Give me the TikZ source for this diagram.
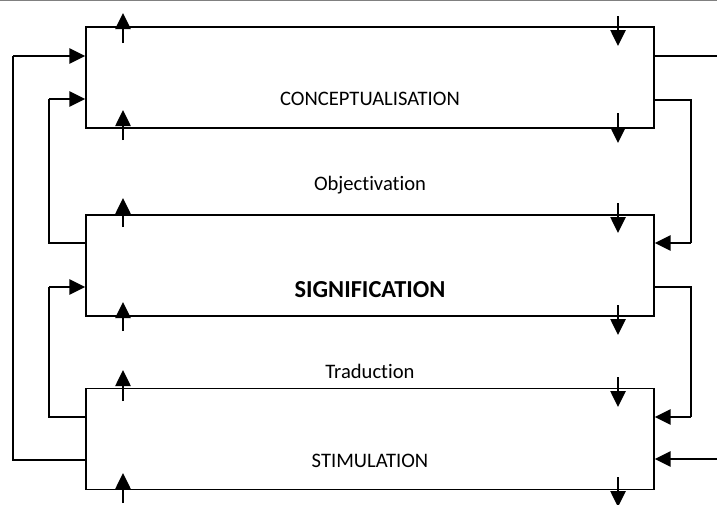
\documentclass[tikz,border=0pt]{standalone}
\usepackage{fontspec}
\setmainfont[Ligatures={NoCommon}]{Carlito}
\usetikzlibrary{arrows.meta}
\begin{document}
\begin{tikzpicture}[x=1pt,y=-1pt,
  box/.style={draw,line width=1.3pt,minimum width=568pt,minimum height=101pt,inner sep=0pt},
  thin/.style={line width=1.3pt},
  flow/.style={line width=2.6pt,-{Triangle[length=16pt,width=15pt]}},
  lbl/.style={anchor=base,inner sep=0pt,font=\fontsize{20.6}{24}\selectfont}]
\useasboundingbox (0,0) rectangle (717,504);
\draw[gray,line width=1.5pt] (0,0.6) -- (717,0.6);

% the three levels
\node[box] (c) at (370,77.5) {};
\node[box] (s) at (370,265.5) {};
\node[box] (t) at (370,439) {};

\node[lbl] (cl) at (370,105) {CONCEPTUALISATION};
\node[lbl] (ol) at (370,190) {Objectivation};
\node[lbl,font=\fontsize{24.4}{28}\selectfont\bfseries] (sl) at (370,297) {SIGNIFICATION};
\node[lbl] (tl) at (370,378) {Traduction};
\node[lbl] (stl) at (370,467) {STIMULATION};

% rising arrows (left column)
\foreach \n/\a/\b in {u1/43/13, u2/140/110, u3/227/198, u4/331/302, u5/401/370, u6/503/473}{
  \coordinate (\n a) at (123,\a);
  \coordinate (\n b) at (123,\b);
  \draw[flow] (\n a) -- (\n b);
}
% falling arrows (right column)
\foreach \n/\a/\b in {d1/16/46, d2/113/143, d3/203/233, d4/305/335, d5/377/407, d6/477/507}{
  \coordinate (\n a) at (618,\a);
  \coordinate (\n b) at (618,\b);
  \draw[flow] (\n a) -- (\n b);
}

% left feedback loops
\coordinate (lo) at (13,56);
\coordinate (lob) at (13,460);
\draw[flow] (lo) -- (lo -| c.west);
\draw[thin] (lo) -- (lob) -- (lob -| t.west);

\coordinate (li1) at (49,99);
\coordinate (li1b) at (49,243);
\draw[flow] (li1) -- (li1 -| c.west);
\draw[thin] (li1) -- (li1b) -- (li1b -| s.west);

\coordinate (li2) at (49,287);
\coordinate (li2b) at (49,417);
\draw[flow] (li2) -- (li2 -| s.west);
\draw[thin] (li2) -- (li2b) -- (li2b -| t.west);

% right side links
\coordinate (ro) at (717,56);
\draw[thin] (ro -| c.east) -- (ro);

\coordinate (ri1) at (691,100);
\coordinate (ri1b) at (691,243);
\draw[thin] (ri1 -| c.east) -- (ri1) -- (ri1b);
\draw[flow] (ri1b) -- (ri1b -| s.east);

\coordinate (ri2) at (691,287);
\coordinate (ri2b) at (691,417);
\draw[thin] (ri2 -| s.east) -- (ri2) -- (ri2b);
\draw[flow] (ri2b) -- (ri2b -| t.east);

\coordinate (rin) at (717,459);
\draw[flow] (rin) -- (rin -| t.east);
\end{tikzpicture}
\end{document}
